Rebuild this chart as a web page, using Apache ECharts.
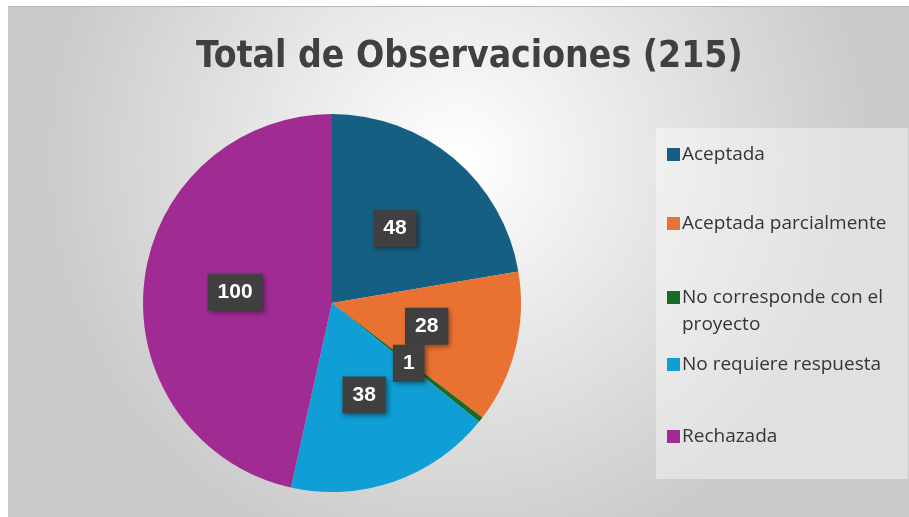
<!DOCTYPE html>
<html>
<head>
<meta charset="utf-8">
<script src="https://cdn.jsdelivr.net/npm/echarts@6/dist/echarts.min.js"></script>
<style>
  html, body { margin: 0; padding: 0; background: #ffffff; }
  #main { position: absolute; left: 8px; top: 6px; width: 901px; height: 511px; border-top: 1px solid #b8b8b8; }
</style>
</head>
<body>
<div id="main"></div>
<script>
const titleText = "Total de Observaciones (215)";
const categories = ["Aceptada", "Aceptada parcialmente", "No corresponde con el proyecto", "No requiere respuesta", "Rechazada"];
const values = [48, 28, 1, 38, 100];
const colors = ["#156082", "#E97132", "#196B24", "#0F9ED5", "#A02B93"];
const legendTops = [134, 203, 277, 344, 416];

const myChart = echarts.init(document.getElementById("main"));

// one legend per entry so the spacing can follow the picture
const legends = categories.map((name, i) => {
  const twoLine = name === "No corresponde con el proyecto";
  return {
    data: [name],
    orient: "vertical",
    left: 659,
    top: legendTops[i],
    padding: 0,
    selectedMode: false,
    itemWidth: 13,
    itemHeight: twoLine ? 40 : 13,
    itemGap: 0,
    // square at the top of the box, so the icon lines up with the first line
    icon: twoLine ? "path://M0,0h13v13h-13zM0,40h0.001" : "rect",
    itemStyle: { borderWidth: 0 },
    formatter: (n) => (n === "No corresponde con el proyecto" ? "No corresponde con el\nproyecto" : n),
    textStyle: {
      color: "#353535",
      fontSize: 19,
      lineHeight: 27,
      fontFamily: "Open Sans",
      padding: [0, 0, 0, -3],
    },
  };
});

myChart.setOption({
  backgroundColor: {
    type: "radial",
    x: 0.5,
    y: 0.3,
    r: 0.8,
    colorStops: [
      { offset: 0, color: "#ffffff" },
      { offset: 1, color: "#cbcbcb" },
    ],
  },
  color: colors,
  title: {
    text: titleText,
    left: 183,
    top: 27,
    textStyle: {
      fontFamily: "'DejaVu Sans Condensed', 'Liberation Sans Narrow', 'Roboto Condensed', sans-serif",
      fontWeight: "bold",
      fontSize: 37,
      color: "#404040",
    },
  },
  graphic: [
    {
      type: "rect",
      left: 648,
      top: 121,
      z: -1,
      shape: { width: 252, height: 351 },
      style: { fill: "rgba(255,255,255,0.4)" },
    },
  ],
  legend: legends,
  series: [
    {
      name: "Observaciones",
      type: "pie",
      center: [324, 296],
      radius: [0, 189],
      startAngle: 90,
      clockwise: true,
      avoidLabelOverlap: false,
      minShowLabelAngle: 0,
      data: categories.map((name, i) => ({ name: name, value: values[i] })),
      itemStyle: { borderWidth: 0 },
      label: {
        show: true,
        position: "inside",
        formatter: "{c}",
        color: "#ffffff",
        fontFamily: "Liberation Sans",
        fontWeight: "bold",
        fontSize: 21,
        lineHeight: 21,
        backgroundColor: "#404040",
        padding: [8, 10],
        shadowColor: "rgba(0,0,0,0.45)",
        shadowBlur: 5,
        shadowOffsetX: 2,
        shadowOffsetY: 2,
      },
      labelLayout: { hideOverlap: false },
      labelLine: { show: false },
      emphasis: { disabled: true },
    },
  ],
});
</script>
</body>
</html>
